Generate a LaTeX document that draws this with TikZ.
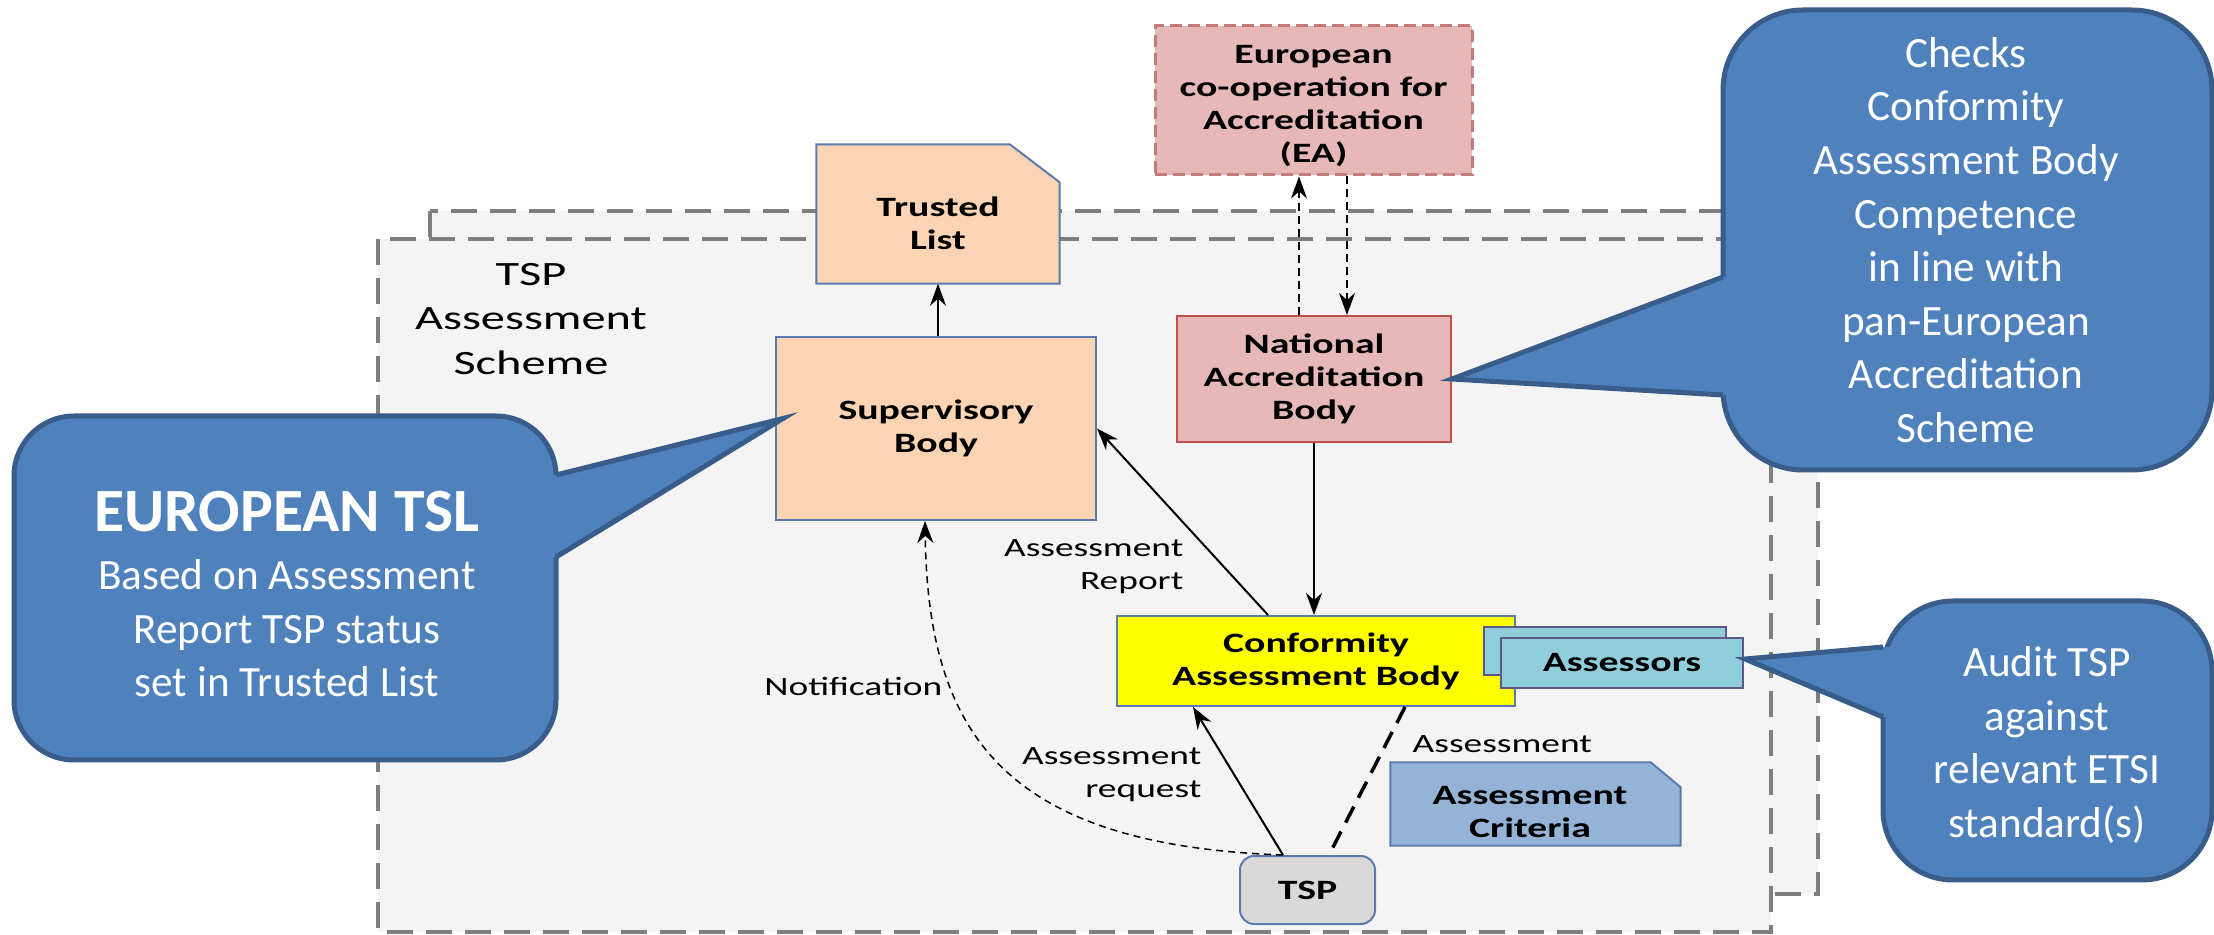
\documentclass[tikz,border=0pt]{standalone}
\usepackage{fontspec}
\setmainfont{Carlito}
\newfontfamily\dgfont[FakeStretch=1.42]{Carlito}
\usetikzlibrary{arrows.meta,calc}
\definecolor{peach}{HTML}{FBD4B4}
\definecolor{bxb}{HTML}{5B7BAE}
\definecolor{pinkf}{HTML}{E6B9B8}
\definecolor{nabb}{HTML}{C0504D}
\definecolor{eab}{HTML}{C47A7A}
\definecolor{cabf}{HTML}{FFFF00}
\definecolor{asf}{HTML}{92CDDC}
\definecolor{asb}{HTML}{5C5889}
\definecolor{tspf}{HTML}{D9D9D9}
\definecolor{acf}{HTML}{95B3D7}
\definecolor{cofill}{HTML}{4F81BD}
\definecolor{coborder}{HTML}{385D8A}
\definecolor{schfill}{HTML}{F4F4F4}
\definecolor{schline}{HTML}{7F7F7F}
\newcommand\dgBox{\dgfont\bfseries\fontsize{7.97}{9.39}\selectfont}
\newcommand\dgLbl{\dgfont\fontsize{7.5}{9.39}\selectfont}
\newcommand\dgScheme{\dgfont\fontsize{9.7}{12.66}\selectfont}
\newcommand\coText{\fontsize{12.3}{15.25}\selectfont}
\tikzset{
  box/.style={draw=bxb, line width=0.2mm, inner sep=0pt, align=center, font=\dgBox},
  docline/.style={draw=bxb, line width=0.2mm},
  conn/.style={line width=0.2mm, draw=black},
  tipst/.style={-{Stealth[length=2.2mm,width=1.6mm,inset=0.7mm]}},
  arr/.style={conn, tipst},
  fdash/.style={line width=0.15mm, draw=black, dash pattern=on 0.8mm off 0.5mm},
  ndash/.style={line width=0.15mm, draw=black, dash pattern=on 0.7mm off 0.5mm},
  tdash/.style={line width=0.35mm, draw=black, dash pattern=on 1.8mm off 1mm},
  lbl/.style={font=\dgLbl, inner sep=0pt},
  cobox/.style={fill=cofill, draw=coborder, line width=0.5mm, inner sep=0pt},
  cotext/.style={text=white, align=center, font=\coText, inner sep=0pt},
  schemebox/.style={fill=schfill, draw=schline, line width=0.4mm, dash pattern=on 2.6mm off 1.3mm}
}
\begin{document}
\begin{tikzpicture}[x=0.1mm,y=-0.1mm]
\useasboundingbox (0,0) rectangle (2214,935);
\fill[white] (0,0) rectangle (2214,935);
% scheme containers
\draw[schemebox] (430,211) rectangle (1818,894);
\draw[schemebox] (378,239) rectangle (1771,932);
\node[font=\dgScheme, align=center, inner sep=0pt] (schemelbl) at (531,319) {TSP\\Assessment\\Scheme};
% boxes
\node[box, fill=peach, minimum width=32mm, minimum height=18.3mm] (sb) at (936,428.5) {Supervisory\\Body};
\node[inner sep=0pt, minimum width=24.2mm, minimum height=13.8mm] (tlshape) at (938,214) {};
\draw[docline, fill=peach] (tlshape.south west) -- (tlshape.north west) -- ($(tlshape.north east)+(-50,0)$) -- ($(tlshape.north east)+(0,38)$) -- (tlshape.south east) -- cycle;
\node[font=\dgBox, align=center, inner sep=0pt] (tltext) at (938,223) {Trusted\\List};
\node[box, fill=pinkf, draw=eab, line width=0.3mm, dash pattern=on 1.2mm off 0.6mm, minimum width=31.7mm, minimum height=14.9mm] (ea) at (1313.5,100.5) {};
\node[font=\dgBox, align=center, inner sep=0pt] (eatext) at (1313.5,106.5) {European\\co-operation for\\Accreditation\\(EA)};
\node[box, fill=pinkf, draw=nabb, minimum width=27.4mm, minimum height=12.6mm] (nab) at (1314,379) {National\\Accreditation\\Body};
\node[box, fill=cabf, minimum width=39.8mm, minimum height=9mm] (cab) at (1316,661) {Conformity\\Assessment Body};
\node[box, fill=asf, draw=asb, minimum width=24.2mm, minimum height=4.8mm] (as2) at (1605,651) {};
\node[box, fill=asf, draw=asb, minimum width=24.2mm, minimum height=5mm] (as1) at (1622,663) {Assessors};
\node[box, fill=tspf, rounded corners=1.4mm, minimum width=13.5mm, minimum height=6.8mm] (tsp) at (1307.5,890) {TSP};
\node[inner sep=0pt, minimum width=28.9mm, minimum height=8.2mm] (acshape) at (1535.5,804) {};
\draw[docline, fill=acf] (acshape.south west) -- (acshape.north west) -- ($(acshape.north east)+(-30,0)$) -- ($(acshape.north east)+(0,25)$) -- (acshape.south east) -- cycle;
\node[font=\dgBox, align=center, inner sep=0pt] (actext) at (1530,812) {Assessment\\Criteria};
% labels
\node[lbl, align=right, anchor=east] (lrep) at (1184,567) {Assessment\\Report};
\node[lbl, align=right, anchor=east] (lreq) at (1202,775) {Assessment\\request};
\node[lbl, anchor=east] (lnot) at (943,686) {Notification};
\node[lbl, anchor=west] (lass) at (1412,744) {Assessment};
% connectors
\draw[arr] (tlshape.south |- sb.north) -- (tlshape.south);
\coordinate (eaL) at ($(nab.north)+(-15,0)$);
\coordinate (eaR) at ($(ea.south)+(33.5,0)$);
\draw[fdash, tipst] (eaL) -- (eaL |- ea.south);
\draw[fdash, tipst] (eaR) -- (eaR |- nab.north);
\draw[arr] (nab.south) -- (nab.south |- cab.north);
\coordinate (cabTL) at ($(cab.north)+(-48,0)$);
\draw[arr] (cabTL) -- (sb.east);
\coordinate (tspA) at ($(tsp.north)+(-24.5,0)$);
\coordinate (cabB) at ($(cab.south)+(-123,0)$);
\draw[arr] (tspA) -- (cabB);
\coordinate (cabC) at ($(cab.south)+(89,0)$);
\coordinate (tspB) at ($(tsp.north)+(21.5,0)$);
\draw[tdash] (cabC) -- (tspB);
\coordinate (sbN) at ($(sb.south)+(-11,0)$);
\draw[ndash, tipst] (tspA) .. controls (1000,845) and (928,730) .. (sbN);
% callouts
\node[cobox, rounded corners=6mm, minimum width=54.2mm, minimum height=34.4mm] (cl) at (285,588) {};
\coordinate (tipL) at ($(sb.west)+(8,-10)$);
\fill[cofill] (556,475) -- (tipL) -- (556,557) -- (540,557) -- (540,475) -- cycle;
\draw[coborder, line width=0.5mm, line join=miter] (556,475) -- (tipL) -- (556,557);
\node[cotext] (cltext) at (287,594) {{\fontsize{17.5}{21}\selectfont\bfseries EUROPEAN TSL}\\[1.3pt]Based on Assessment\\Report TSP status\\set in Trusted List};

\node[cobox, rounded corners=8mm, minimum width=48.9mm, minimum height=46mm] (cr) at (1967.5,240) {};
\coordinate (tipR) at (nab.east);
\fill[cofill] (1723,277) -- (tipR) -- (1723,395) -- (1740,395) -- (1740,277) -- cycle;
\draw[coborder, line width=0.5mm, line join=miter] (1723,277) -- (tipR) -- (1723,395);
\node[cotext] (crtext) at (1966,240) {Checks\\Conformity\\Assessment Body\\Competence\\in line with\\pan-European\\Accreditation\\Scheme};

\node[cobox, rounded corners=7mm, minimum width=32.9mm, minimum height=27.9mm] (cb) at (2047.5,740.5) {};
\coordinate (tipB) at ($(as1.east)+(1,-4)$);
\fill[cofill] (1883,647) -- (tipB) -- (1883,717) -- (1900,717) -- (1900,647) -- cycle;
\draw[coborder, line width=0.5mm, line join=miter] (1883,647) -- (tipB) -- (1883,717);
\node[cotext] (cbtext) at (2047,745) {Audit TSP\\against\\relevant ETSI\\standard(s)};
\end{tikzpicture}
\end{document}
